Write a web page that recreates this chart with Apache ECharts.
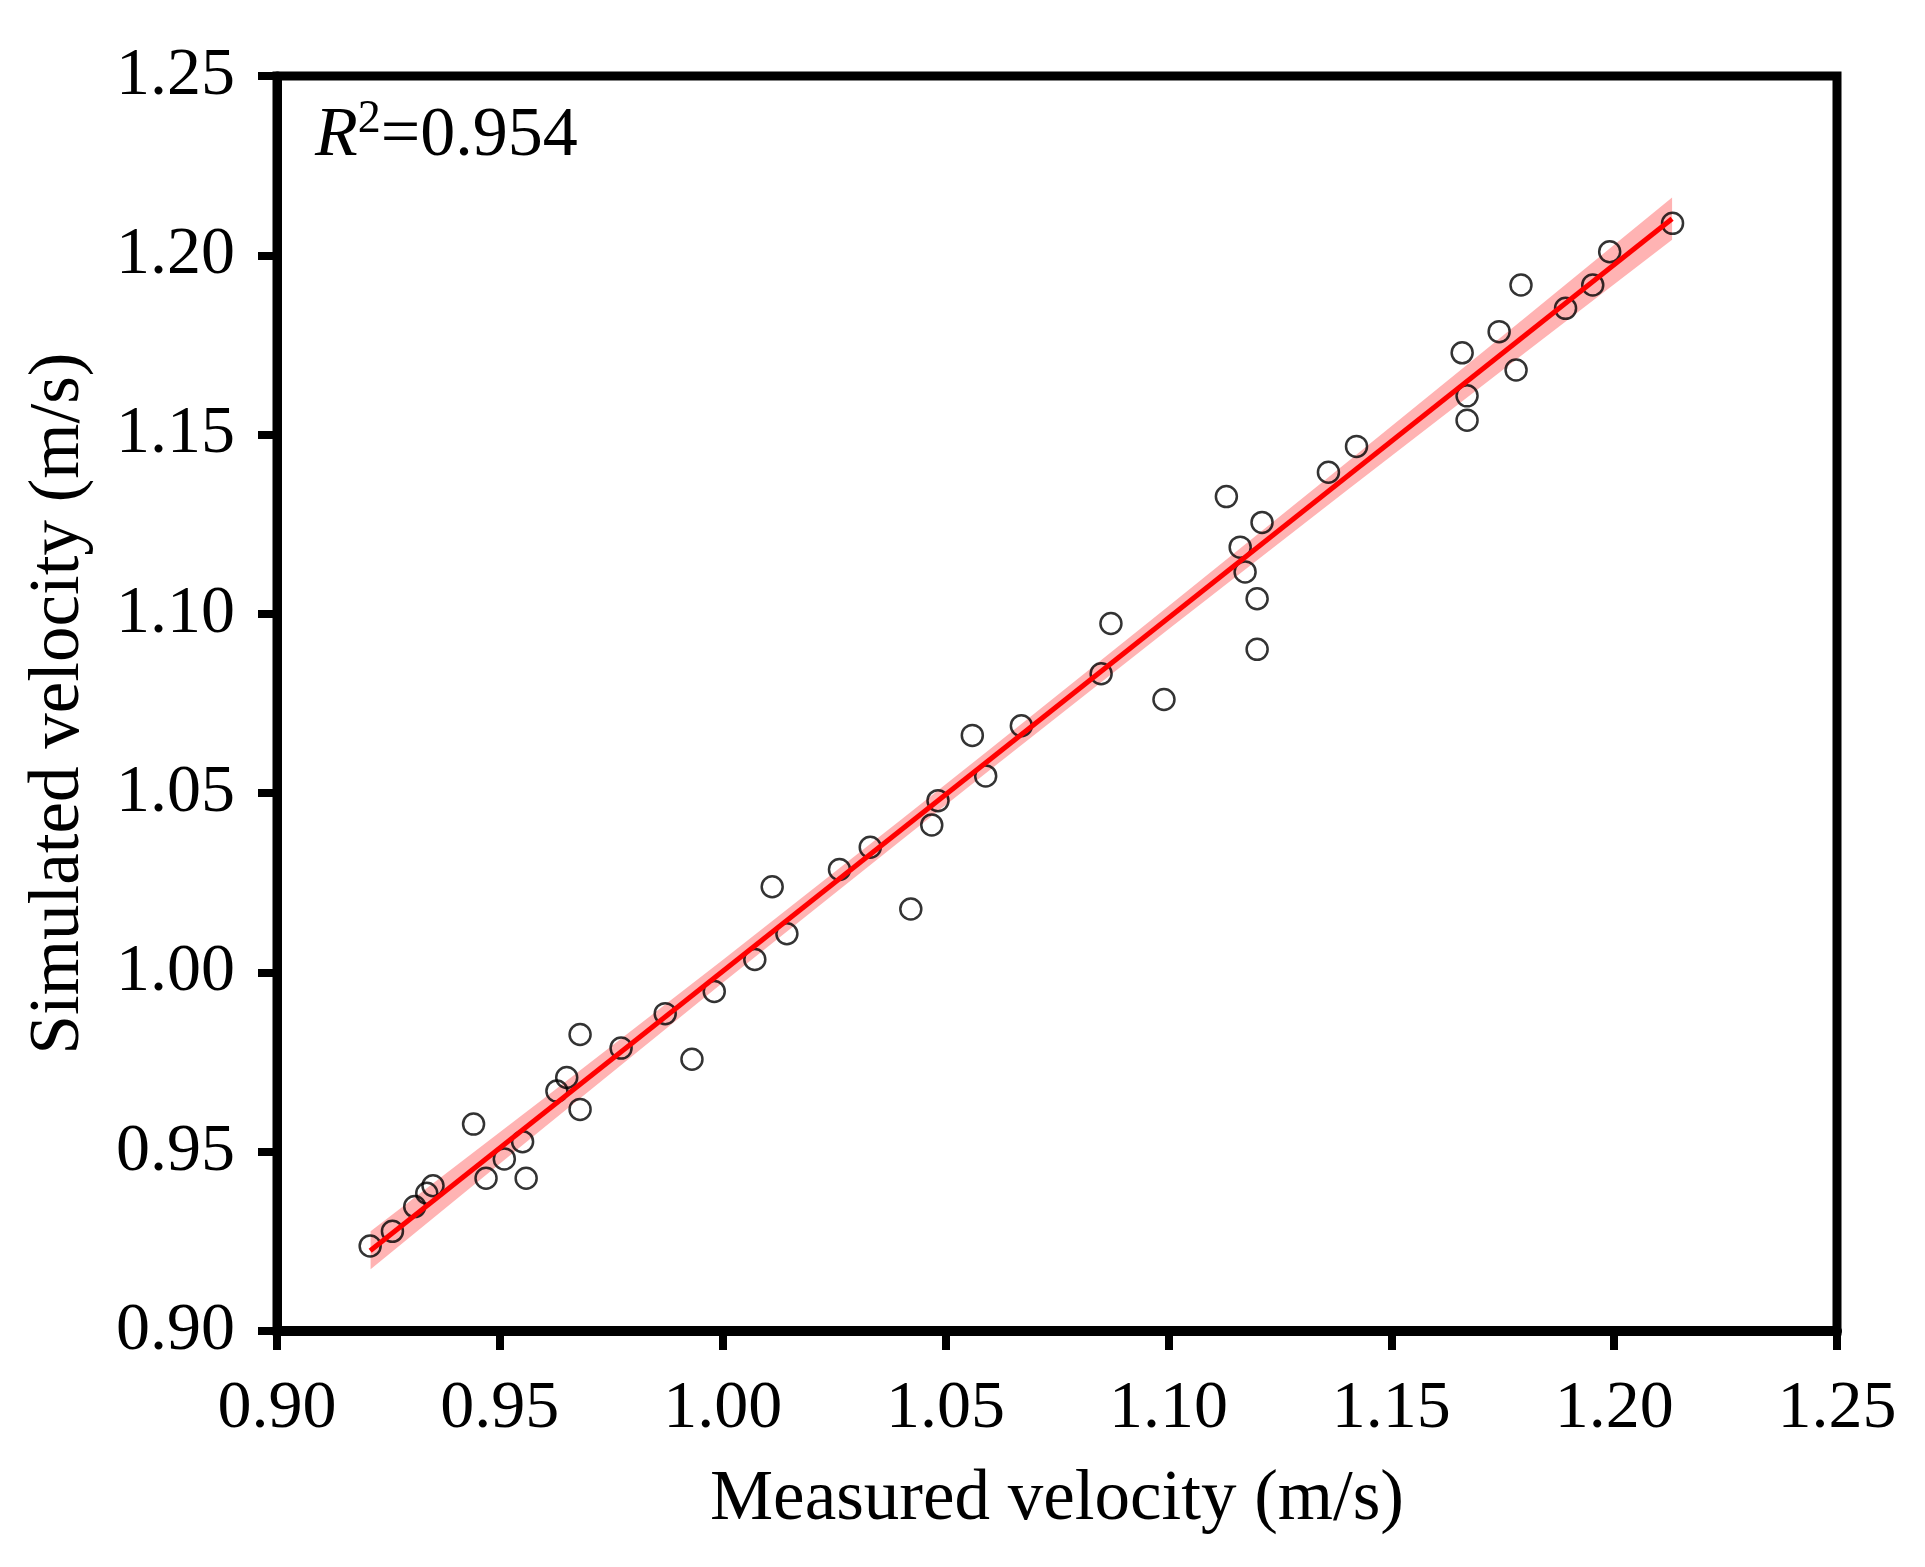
<!DOCTYPE html>
<html>
<head>
<meta charset="utf-8">
<title>Measured vs simulated velocity</title>
<script src="https://cdn.jsdelivr.net/npm/echarts@6/dist/echarts.min.js"></script>
<style>
  html, body { margin: 0; padding: 0; background: #fff; }
  #chart { width: 1925px; height: 1567px; }
</style>
</head>
<body>
<div id="chart"></div>
<script>
// measured / simulated pairs
const measured = [
  0.9209, 0.9259, 0.9309, 0.9336, 0.9350, 0.9441, 0.9469, 0.9510, 0.9551, 0.9559,
  0.9628, 0.9650, 0.9680, 0.9680, 0.9772, 0.9871, 0.9931, 0.9981, 1.0072, 1.0111,
  1.0144, 1.0262, 1.0331, 1.0422, 1.0469, 1.0483, 1.0560, 1.0590, 1.0670, 1.0849,
  1.0871, 1.0990, 1.1130, 1.1161, 1.1172, 1.1199, 1.1199, 1.1210, 1.1359, 1.1422,
  1.1659, 1.1670, 1.1670, 1.1742, 1.1780, 1.1791, 1.1891, 1.1952, 1.1990, 1.2131
];
const simulated = [
  0.9237, 0.9278, 0.9347, 0.9384, 0.9405, 0.9577, 0.9426, 0.9480, 0.9528, 0.9426,
  0.9669, 0.9707, 0.9827, 0.9618, 0.9789, 0.9885, 0.9758, 0.9947, 1.0036, 1.0239,
  1.0108, 1.0287, 1.0349, 1.0177, 1.0411, 1.0479, 1.0661, 1.0548, 1.0688, 1.0833,
  1.0973, 1.0761, 1.1327, 1.1186, 1.1117, 1.1042, 1.0901, 1.1255, 1.1395, 1.1467,
  1.1728, 1.1608, 1.1540, 1.1787, 1.1680, 1.1917, 1.1852, 1.1917, 1.2010, 1.2089
];

// fitted line end points
const fitX = [0.9209, 1.2130];
const fitY = [0.9224, 1.2102];

// confidence band
const bandX     = [0.921, 0.960, 1.000, 1.040, 1.060, 1.100, 1.140, 1.180, 1.213];
const bandLower = [0.9172, 0.9568, 0.9971, 1.0368, 1.0565, 1.0957, 1.1344, 1.1728, 1.2043];
const bandUpper = [0.9278, 0.9650, 1.0035, 1.0426, 1.0623, 1.1021, 1.1422, 1.1826, 1.2161];

const axisMin = 0.90;
const axisMax = 1.25;
const axisStep = 0.05;
const rSquared = '0.954';

const FONT = '"Liberation Serif", "Times New Roman", serif';

const chart = echarts.init(document.getElementById('chart'));

const tickFmt = (v) => v.toFixed(2);

const axisCommon = {
  type: 'value',
  min: axisMin,
  max: axisMax,
  interval: axisStep,
  splitLine: { show: false },
  axisLine: { show: true, lineStyle: { color: '#000', width: 9 } },
  axisTick: { show: true, inside: false, length: 19, lineStyle: { color: '#000', width: 8 } },
  axisLabel: { formatter: tickFmt, color: '#000', fontFamily: FONT, fontSize: 68 },
  nameLocation: 'middle',
  nameTextStyle: { color: '#000', fontFamily: FONT, fontSize: 71 }
};

chart.setOption({
  backgroundColor: '#fff',
  animation: false,
  grid: {
    left: 277,
    right: 88,
    top: 76,
    bottom: 236,
    show: true,
    borderColor: '#000',
    borderWidth: 9,
    backgroundColor: 'transparent'
  },
  xAxis: Object.assign({}, axisCommon, {
    name: 'Measured velocity (m/s)',
    nameGap: 134,
    axisLine: { show: true, lineStyle: { color: '#000', width: 10 } },
    axisLabel: Object.assign({}, axisCommon.axisLabel, { margin: 44 })
  }),
  yAxis: Object.assign({}, axisCommon, {
    name: 'Simulated velocity (m/s)',
    nameGap: 182,
    axisLabel: Object.assign({}, axisCommon.axisLabel, { margin: 42 })
  }),
  graphic: [{
    type: 'text',
    left: 315,
    top: 97,
    style: {
      text: '{r|R}{s|2}{n|=' + rSquared + '}',
      fill: '#000',
      rich: {
        r: { fontFamily: FONT, fontSize: 70, fontStyle: 'italic', lineHeight: 80, fill: '#000' },
        s: { fontFamily: FONT, fontSize: 46, lineHeight: 36, verticalAlign: 'top', fill: '#000' },
        n: { fontFamily: FONT, fontSize: 70, lineHeight: 80, fill: '#000' }
      }
    }
  }],
  series: [
    {
      type: 'custom',
      name: 'band',
      silent: true,
      z: 1,
      data: bandX.map((x, i) => [x, bandLower[i], bandUpper[i]]),
      renderItem: (params, api) => {
        if (params.dataIndex !== 0) return null;
        const pts = [];
        for (let i = 0; i < bandX.length; i++) pts.push(api.coord([bandX[i], bandLower[i]]));
        for (let i = bandX.length - 1; i >= 0; i--) pts.push(api.coord([bandX[i], bandUpper[i]]));
        return {
          type: 'polygon',
          shape: { points: pts },
          style: { fill: '#ffb3b3', stroke: null }
        };
      }
    },
    {
      type: 'scatter',
      name: 'data',
      z: 2,
      symbol: 'circle',
      symbolSize: 21,
      itemStyle: { color: 'rgba(0,0,0,0)', borderColor: '#000', borderWidth: 2.5 },
      data: measured.map((x, i) => [x, simulated[i]])
    },
    {
      type: 'line',
      name: 'fit',
      z: 3,
      showSymbol: false,
      symbol: 'none',
      lineStyle: { color: '#ff0000', width: 5 },
      data: fitX.map((x, i) => [x, fitY[i]])
    }
  ]
});

window.addEventListener('resize', () => chart.resize());
</script>
</body>
</html>
